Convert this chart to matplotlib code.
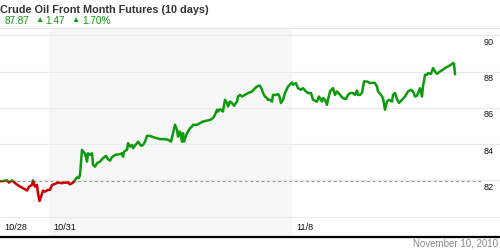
import matplotlib
matplotlib.use("Agg")
import matplotlib.pyplot as plt
import matplotlib.transforms as mtransforms
from matplotlib.patches import Rectangle

# ---- data ----
title = "Crude Oil Front Month Futures (10 days)"
last_price = "87.87"
change = "1.47"
change_pct = "1.70%"
date_text = "November 10, 2010"

# time in 30-minute bars since start of window
bars = [0, 3, 7, 9, 12, 15, 19, 22, 25, 27, 29, 32, 33, 35, 37, 38, 39.5, 41, 43, 45,
        48, 50, 52, 55, 58, 62, 65, 68, 70, 73, 75, 77, 79, 80, 81, 82, 83, 85, 87, 88,
        90, 92, 93, 95, 97, 100, 103, 106, 108, 110, 112, 115, 120, 122, 123, 124, 127, 128, 130, 132,
        133, 137, 138, 141, 143, 145, 147, 150, 153, 157, 160, 165, 168, 171, 173, 175, 177, 178, 180, 182,
        183, 184, 187, 190, 192, 193, 197, 200, 203, 207, 210, 213, 215, 217, 218, 220, 223, 225, 227, 228,
        230, 232, 234, 237, 238, 240, 242, 245, 248, 252, 255, 258, 260, 262, 263, 265, 267, 268, 270, 272,
        273, 276, 278, 279, 281, 283, 285, 288, 292, 293, 296, 298, 301, 303, 306, 308, 311, 313, 317, 319,
        322, 323, 325, 327, 328, 330, 333, 335, 337, 340, 343, 346, 348, 350, 353, 355, 357, 358, 360, 362,
        364, 367, 370, 373, 375, 377, 378, 381, 383, 385, 387, 389, 392, 393, 395, 397, 399, 402, 405, 408,
        411, 413, 415, 417, 420, 422, 423, 425, 427, 428, 431, 433, 435, 437, 440, 443, 445, 448, 451, 453,
        454, 455]
prices = [81.96, 81.97, 82.01, 81.88, 82.01, 81.85, 81.70, 81.60, 81.51, 81.44, 81.66, 81.75, 82.01, 81.66, 81.75, 81.29, 80.87, 81.10, 81.44, 81.38,
          81.48, 81.48, 81.75, 81.81, 81.88, 81.85, 81.88, 81.88, 81.79, 81.88, 82.03, 82.17, 82.14, 82.30, 82.97, 83.69, 83.59, 83.50, 83.04, 83.50,
          83.41, 83.50, 82.86, 82.76, 82.95, 83.04, 83.23, 83.35, 83.17, 83.09, 83.28, 83.41, 83.45, 83.50, 83.31, 83.59, 83.69, 84.06, 83.87, 83.96,
          83.78, 84.06, 84.14, 83.91, 83.96, 84.14, 84.46, 84.46, 84.39, 84.33, 84.28, 84.28, 84.24, 84.14, 84.61, 85.07, 84.79, 84.42, 84.70, 84.14,
          84.61, 84.14, 84.61, 84.88, 84.97, 85.07, 85.07, 85.16, 85.25, 85.30, 85.34, 85.44, 85.62, 85.90, 85.80, 85.93, 85.80, 86.45, 86.27, 86.08,
          86.35, 86.27, 86.12, 86.35, 86.63, 86.72, 86.63, 86.72, 86.82, 86.91, 87.09, 87.22, 87.22, 87.00, 86.82, 86.63, 86.54, 86.45, 86.45, 86.35,
          86.72, 86.72, 86.76, 86.72, 86.27, 86.45, 86.82, 87.18, 87.40, 87.28, 87.37, 87.09, 87.00, 87.09, 86.91, 86.82, 86.82, 86.45, 86.35, 86.63,
          86.35, 86.54, 86.45, 86.17, 86.45, 86.91, 87.09, 86.72, 86.91, 86.72, 86.54, 86.49, 86.72, 86.82, 86.82, 86.72, 86.96, 86.72, 86.72, 86.83,
          87.46, 87.46, 87.37, 87.39, 87.37, 87.18, 86.91, 86.72, 86.54, 85.90, 86.35, 86.45, 86.35, 86.72, 86.82, 86.49, 86.27, 86.45, 86.63, 86.91,
          87.00, 86.91, 86.63, 86.67, 87.09, 86.63, 87.18, 87.83, 87.83, 87.92, 87.88, 88.20, 88.01, 87.88, 88.01, 88.11, 88.20, 88.29, 88.38, 88.48,
          88.44, 87.87]

base_price = 81.96
date_ticks = [0, 49, 292]
date_labels = ["10/28", "10/31", "11/8"]
shade_range = (49, 292)
grid_values = [80, 82, 84, 86, 88, 90]
label_values = [82, 84, 86, 88, 90]

GREEN = "#0d9a0d"
RED = "#cc0000"
FONT = ["Liberation Sans", "DejaVu Sans"]

fig = plt.figure(figsize=(5, 2.5), dpi=100)
# axes spans px 28..237 vertically, full width horizontally
ax = fig.add_axes([0, 13 / 250, 1, (237 - 28) / 250])
ax.set_xlim(0, 500)
ax.set_ylim(78.88, 90.41)

ax.axvspan(*shade_range, color="#f7f7f7", lw=0, zorder=0)
for v in grid_values:
    ax.axhline(v, color="#e9e9e9", lw=0.8, zorder=1)
ax.plot([0, 482], [base_price, base_price], color="#9a9a9a", lw=0.8,
        dashes=(2.5, 2.5), zorder=2)

# line coloured by position relative to base price
above = Rectangle((0, base_price), 500, 20, transform=ax.transData)
below = Rectangle((0, base_price - 20), 500, 20, transform=ax.transData)
lg, = ax.plot(bars, prices, color=GREEN, lw=1.8, zorder=3, solid_joinstyle="round")
lg.set_clip_path(above)
lr, = ax.plot(bars, prices, color=RED, lw=1.8, zorder=3, solid_joinstyle="round")
lr.set_clip_path(below)

for s in ["left", "right"]:
    ax.spines[s].set_visible(False)
ax.spines["top"].set_color("#e6e6e6")
ax.spines["top"].set_linewidth(0.8)
ax.spines["bottom"].set_color("black")
ax.spines["bottom"].set_linewidth(1.6)
ax.set_xticks([])
ax.set_yticks([])

# y labels (right side, below gridlines)
off = mtransforms.ScaledTranslation(0, -2.5 / 100, fig.dpi_scale_trans)
for v in label_values:
    ax.text(484, v, f"{v}", transform=ax.transData + off, ha="left", va="top",
            fontsize=6.6, family=FONT, color="#111111")

# date labels
yl = 79.43
for t, lab in zip(date_ticks, date_labels):
    ax.text(t + 4, yl, lab, ha="left", va="center", fontsize=6.6,
            family=FONT, color="#111111")

# header
fig.text(0.0, 1 - 10 / 250, title, ha="left", va="center", fontsize=7.8,
         fontweight="bold", family=FONT, color="#333333")
fig.text(5 / 500, 1 - 21 / 250, last_price, ha="left", va="center", fontsize=7.2,
         family=FONT, color=GREEN)
fig.text(35 / 500, 1 - 20.5 / 250, "▲", ha="left", va="center", fontsize=6,
         family=FONT, color=GREEN)
fig.text(45 / 500, 1 - 21 / 250, change, ha="left", va="center", fontsize=7.2,
         family=FONT, color=GREEN)
fig.text(71 / 500, 1 - 20.5 / 250, "▲", ha="left", va="center", fontsize=6,
         family=FONT, color=GREEN)
fig.text(82 / 500, 1 - 21 / 250, change_pct, ha="left", va="center", fontsize=7.2,
         family=FONT, color=GREEN)

fig.text(498 / 500, 1 - 244 / 250, date_text, ha="right", va="center", fontsize=7,
         family=FONT, color="#888888")

fig.savefig("out.png", dpi=100)
